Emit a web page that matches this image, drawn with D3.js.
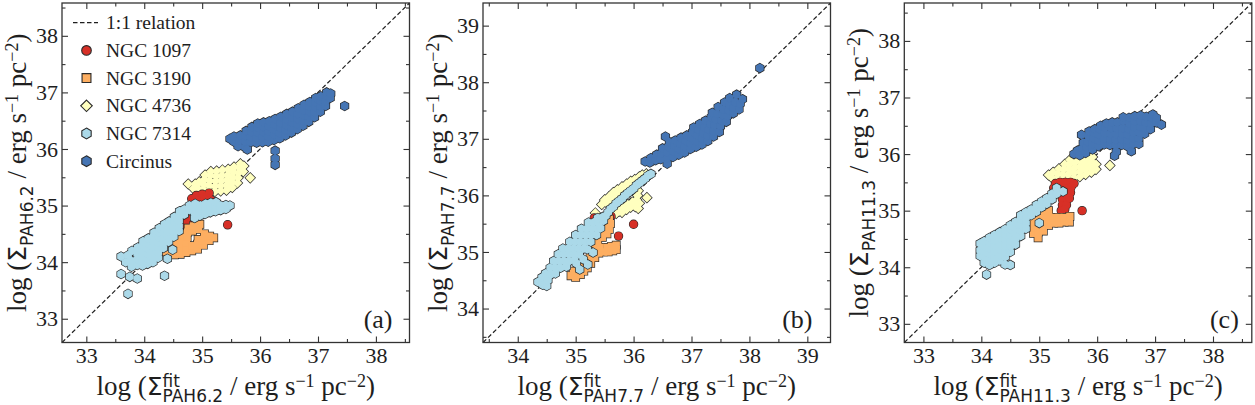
<!DOCTYPE html>
<html>
<head>
<meta charset="utf-8">
<script src="https://cdn.jsdelivr.net/npm/d3@7"></script>
<style>
  body { margin: 0; background: #fff; }
  svg { display: block; font-family: 'Liberation Serif', 'Times New Roman', serif; }
</style>
</head>
<body>
<svg id="chart" width="1255" height="405"></svg>
<script>
// ---- data ---------------------------------------------------------------
const galaxies = ['NGC 1097', 'NGC 3190', 'NGC 4736', 'NGC 7314', 'Circinus'];
const features = ['PAH6.2', 'PAH7.7', 'PAH11.3'];
const panelNames = ['(a)', '(b)', '(c)'];
const ticksA = [33, 34, 35, 36, 37, 38];
const ticksB = [34, 35, 36, 37, 38, 39];
const ticksC = [33, 34, 35, 36, 37, 38];

// panel (a): [log fit, log measured]
const ngc1097A = [[34.82,35.12],[34.85,35.04],[34.9,35.18],[34.95,35.1],[35.0,35.2],[35.03,35.08],
  [35.08,35.15],[35.12,35.22],[35.15,35.1],[35.1,35.0],[35.0,34.98],[34.7,34.66],[34.72,34.75],
  [34.76,34.84],[34.8,34.72],[34.82,34.64],[34.87,34.75],[34.92,34.6],[35.44,34.66]];
const ngc3190A = [[34.28,34.2],[34.35,34.18],[34.35,34.28],[34.43,34.15],[34.44,34.25],[34.45,34.35],
  [34.52,34.13],[34.53,34.22],[34.54,34.32],[34.55,34.42],[34.62,34.14],[34.62,34.23],[34.63,34.32],
  [34.64,34.41],[34.65,34.5],[34.72,34.17],[34.72,34.26],[34.73,34.35],[34.74,34.44],[34.75,34.53],
  [34.76,34.6],[34.82,34.2],[34.82,34.29],[34.83,34.55],[34.85,34.64],[34.92,34.23],[34.92,34.32],
  [34.93,34.4],[34.94,34.58],[34.96,34.67],[35.02,34.3],[35.03,34.38],[35.04,34.5],[35.12,34.38],
  [35.13,34.46],[35.2,34.43]];
const ngc4736A = [[34.85,35.3],[34.88,35.38],[34.93,35.3],[34.95,35.42],[35.02,35.28],[35.03,35.37],
  [35.04,35.46],[35.05,35.54],[35.12,35.26],[35.12,35.35],[35.13,35.44],[35.14,35.53],[35.15,35.6],
  [35.22,35.25],[35.22,35.34],[35.23,35.43],[35.24,35.52],[35.25,35.61],[35.32,35.26],[35.32,35.35],
  [35.33,35.44],[35.34,35.53],[35.35,35.63],[35.42,35.27],[35.42,35.36],[35.43,35.45],[35.44,35.54],
  [35.45,35.64],[35.52,35.32],[35.52,35.41],[35.53,35.5],[35.54,35.59],[35.55,35.68],[35.61,35.4],
  [35.62,35.49],[35.63,35.58],[35.64,35.67],[35.66,35.74],[35.71,35.6],[35.72,35.7],
  [34.76,35.38],[35.83,35.49]];
const ngc7314A = [[33.6,33.79],[33.75,33.74],[33.72,33.44],[33.88,33.71],[34.35,33.76],[34.4,34.06],
  [34.49,34.22],[33.6,34.1],[33.68,34.0],[33.72,34.12],[33.78,33.92],[33.78,34.02],[33.79,34.2],
  [33.88,33.95],[33.88,34.05],[33.88,34.15],[33.89,34.26],
  [33.97,33.94],[33.97,34.03],[33.97,34.12],[33.97,34.21],[33.98,34.3],[33.98,34.37],
  [34.06,33.97],[34.06,34.06],[34.06,34.15],[34.06,34.24],[34.07,34.33],[34.07,34.42],
  [34.15,34.0],[34.15,34.09],[34.15,34.18],[34.15,34.27],[34.16,34.36],[34.16,34.45],[34.17,34.52],
  [34.24,34.08],[34.24,34.17],[34.24,34.26],[34.24,34.35],[34.25,34.44],[34.25,34.53],[34.26,34.6],
  [34.33,34.25],[34.33,34.34],[34.33,34.43],[34.34,34.52],[34.34,34.61],[34.35,34.67],
  [34.42,34.36],[34.42,34.45],[34.42,34.54],[34.43,34.63],[34.43,34.72],
  [34.51,34.45],[34.51,34.54],[34.51,34.63],[34.52,34.72],[34.52,34.8],
  [34.6,34.55],[34.6,34.64],[34.6,34.73],[34.61,34.82],[34.61,34.9],
  [34.69,34.84],[34.69,34.93],[34.78,34.92],[34.78,35.0],
  [34.87,34.78],[34.87,34.87],[34.87,34.96],[34.88,35.03],
  [34.96,34.82],[34.96,34.91],[34.97,35.0],[35.05,34.85],[35.05,34.94],[35.06,35.03],
  [35.14,34.88],[35.14,34.97],[35.15,35.05],[35.23,34.9],[35.23,34.99],[35.24,35.06],
  [35.32,34.92],[35.32,35.0],[35.41,34.94],[35.41,35.01],[35.48,35.0]];
const circinusA = [[35.48,36.18],[35.55,36.13],[35.55,36.22],[35.62,36.05],[35.64,36.15],[35.66,36.24],
  [35.74,36.03],[35.74,36.13],[35.75,36.23],[35.76,36.32],[35.84,36.12],[35.84,36.21],[35.85,36.3],
  [35.86,36.39],[35.94,36.11],[35.94,36.2],[35.95,36.29],[35.95,36.38],[35.96,36.45],[36.04,36.12],
  [36.04,36.21],[36.05,36.3],[36.05,36.39],[36.06,36.47],[36.14,36.13],[36.14,36.22],[36.15,36.31],
  [36.15,36.4],[36.16,36.49],[36.24,36.16],[36.24,36.25],[36.25,36.34],[36.25,36.43],[36.26,36.53],
  [36.34,36.19],[36.34,36.28],[36.35,36.37],[36.35,36.46],[36.36,36.57],[36.44,36.24],[36.44,36.33],
  [36.45,36.42],[36.45,36.52],[36.46,36.62],[36.54,36.29],[36.54,36.38],[36.55,36.47],[36.55,36.56],
  [36.56,36.66],[36.64,36.35],[36.64,36.44],[36.65,36.53],[36.65,36.62],[36.66,36.72],[36.74,36.41],
  [36.74,36.5],[36.75,36.59],[36.75,36.68],[36.76,36.78],[36.84,36.48],[36.84,36.57],[36.85,36.66],
  [36.85,36.75],[36.86,36.83],[36.94,36.56],[36.94,36.65],[36.95,36.74],[36.95,36.83],[36.96,36.9],
  [37.04,36.66],[37.04,36.75],[37.05,36.84],[37.05,36.93],[37.13,36.76],[37.13,36.85],[37.14,36.94],
  [37.15,37.0],[37.21,36.9],[37.22,36.98],[37.46,36.76],[36.26,35.97],[36.26,35.83],[36.26,35.72],
  [35.78,35.99]];

// panel (b)
const ngc1097B = [[35.32,35.6],[35.55,35.6],[35.61,35.63],[35.74,35.28],[36.0,35.49]];
const ngc3190B = [[34.92,34.58],[35.0,34.55],[34.96,34.66],[35.08,34.6],[35.05,34.72],[35.14,34.66],
  [35.12,34.76],[35.2,34.72],[35.18,34.84],[35.26,34.8],[35.25,34.92],[35.33,34.9],[35.32,35.0],
  [35.4,34.98],[35.48,35.0],[35.56,35.0],[35.64,35.02],[35.7,35.04],[35.7,35.12],[35.62,35.1],
  [35.54,35.08],[35.42,35.08],[35.36,35.1],[35.38,35.2],[35.4,35.28],[35.46,35.26],[35.48,35.36],
  [35.54,35.32],[35.52,35.44],[35.58,35.4],[35.56,35.52],[35.6,35.5],[35.58,35.58],[35.3,35.15],
  [35.34,35.28]];
const ngc4736B = [[35.45,35.84],[35.5,35.92],[35.55,35.85],[35.58,35.98],[35.62,35.92],[35.65,36.05],
  [35.68,36.0],[35.72,36.1],[35.76,36.05],[35.8,36.15],[35.85,36.12],[35.88,36.2],[35.93,36.18],
  [35.95,36.25],[36.0,36.23],[36.02,36.28],[36.08,36.3],[36.1,36.33],[36.15,36.36],[36.22,36.38],
  [35.62,35.65],[35.7,35.68],[35.75,35.72],[35.8,35.7],[35.82,35.78],[35.88,35.75],[35.9,35.84],
  [35.95,35.79],[35.98,35.88],[36.03,35.8],[36.05,35.92],[36.07,36.0],[36.08,36.08],[36.08,35.77],
  [36.1,35.86],[35.34,35.69],[36.23,35.96]];
const ngc7314B = [[34.35,34.47],[34.43,34.42],[34.5,34.4],[34.42,34.55],[34.52,34.5],
  [34.48,34.62],[34.57,34.6],[34.65,34.62],
  [34.56,34.72],[34.65,34.72],[34.74,34.72],[34.84,34.74],
  [34.62,34.84],[34.71,34.84],[34.8,34.84],[34.89,34.84],[34.98,34.86],
  [34.7,34.96],[34.79,34.96],[34.88,34.96],[34.97,34.96],[35.06,34.96],
  [34.78,35.06],[34.87,35.06],[34.96,35.06],[35.05,35.06],[35.14,35.06],[35.2,35.05],
  [34.9,35.18],[34.99,35.18],[35.08,35.18],[35.17,35.18],[35.26,35.18],
  [35.0,35.3],[35.09,35.3],[35.18,35.3],[35.27,35.3],[35.36,35.3],
  [35.1,35.41],[35.19,35.41],[35.28,35.41],[35.37,35.41],[35.43,35.42],
  [35.22,35.52],[35.31,35.52],[35.4,35.52],[35.48,35.55],
  [35.38,35.6],[35.47,35.62],
  [35.52,35.64],[35.56,35.7],[35.6,35.76],[35.65,35.8],[35.7,35.86],[35.75,35.9],
  [35.8,35.94],[35.85,36.0],[35.9,36.04],[35.95,36.08],[36.0,36.12],[36.05,36.18],
  [36.1,36.22],[36.15,36.26],[36.2,36.3],[36.25,36.35],[36.3,36.38],
  [35.07,34.69],[35.13,34.87],[35.21,34.78],[35.3,34.99],[35.01,34.8]];
const circinusB = [[36.2,36.6],[36.28,36.58],[36.3,36.66],[36.38,36.62],[36.4,36.72],[36.47,36.64],
  [36.48,36.74],[36.5,36.83],[36.55,37.04],[36.58,36.56],[36.58,36.66],[36.58,36.76],[36.6,36.86],
  [36.62,36.94],[36.68,36.68],[36.68,36.78],[36.7,36.88],[36.72,36.97],[36.78,36.72],[36.78,36.82],
  [36.8,36.92],[36.82,37.02],[36.88,36.76],[36.88,36.86],[36.9,36.96],[36.92,37.06],[36.98,36.82],
  [36.98,36.92],[37.0,37.02],[37.02,37.12],[37.04,37.2],[37.08,36.86],[37.08,36.96],[37.1,37.06],
  [37.12,37.16],[37.14,37.26],[37.18,36.9],[37.18,37.0],[37.2,37.1],[37.22,37.2],[37.24,37.32],
  [37.28,36.96],[37.28,37.06],[37.3,37.16],[37.32,37.26],[37.34,37.38],[37.36,37.46],[37.38,37.04],
  [37.38,37.14],[37.4,37.24],[37.42,37.34],[37.44,37.44],[37.46,37.56],[37.48,37.12],[37.5,37.22],
  [37.52,37.32],[37.54,37.42],[37.55,37.52],[37.57,37.64],[37.6,37.3],[37.62,37.4],[37.64,37.5],
  [37.65,37.6],[37.66,37.72],[37.72,37.45],[37.73,37.55],[37.75,37.65],[37.78,37.78],[37.82,37.52],
  [37.84,37.62],[37.88,37.7],[38.18,38.25]];

// panel (c)
const ngc1097C = [[35.25,35.4],[35.28,35.48],[35.3,35.3],[35.36,35.5],[35.36,35.4],[35.38,35.3],
  [35.4,35.2],[35.4,35.1],[35.38,35.0],[35.45,35.5],[35.46,35.4],[35.47,35.3],[35.48,35.2],
  [35.47,35.1],[35.44,35.02],[35.54,35.5],[35.55,35.42],[35.54,35.32],[35.52,35.22],[35.6,35.48],
  [35.74,35.0]];
const ngc3190C = [[34.82,34.72],[34.82,34.8],[34.9,34.6],[34.9,34.7],[34.9,34.8],[34.9,34.88],
  [34.98,34.52],[34.98,34.62],[34.98,34.72],[34.98,34.82],[34.98,34.92],[35.07,34.64],[35.07,34.74],
  [35.07,34.84],[35.07,34.94],[35.16,34.74],[35.16,34.84],[35.16,34.94],[35.16,35.0],[35.25,34.78],
  [35.25,34.88],[35.34,34.78],[35.34,34.88],[35.43,34.8],[35.43,34.88],[35.52,34.8],[35.53,34.9]];
const ngc4736C = [[35.16,35.63],[35.22,35.58],[35.24,35.68],[35.3,35.56],[35.32,35.65],[35.34,35.74],
  [35.4,35.55],[35.41,35.64],[35.42,35.73],[35.44,35.82],[35.5,35.55],[35.5,35.64],[35.51,35.73],
  [35.52,35.82],[35.53,35.9],[35.6,35.58],[35.6,35.67],[35.61,35.76],[35.62,35.85],[35.63,35.93],
  [35.7,35.6],[35.7,35.69],[35.71,35.78],[35.72,35.87],[35.73,35.95],[35.8,35.64],[35.8,35.73],
  [35.81,35.82],[35.82,35.91],[35.83,35.98],[35.9,35.68],[35.9,35.77],[35.91,35.86],[35.92,35.95],
  [35.98,35.73],[35.98,35.82],[36.22,35.8]];
const ngc7314C = [[33.98,34.2],[33.98,34.3],[33.98,34.42],[34.05,34.08],[34.05,34.18],[34.05,34.28],
  [34.05,34.38],[34.05,34.46],[34.09,33.87],[34.14,34.04],[34.14,34.14],[34.14,34.24],[34.14,34.34],
  [34.14,34.44],[34.14,34.52],[34.23,34.08],[34.23,34.18],[34.23,34.28],[34.23,34.38],[34.23,34.48],
  [34.23,34.57],[34.32,34.12],[34.32,34.22],[34.32,34.32],[34.32,34.42],[34.32,34.52],[34.32,34.62],
  [34.41,34.05],[34.41,34.18],[34.41,34.28],[34.41,34.38],[34.41,34.48],[34.41,34.58],[34.41,34.67],
  [34.5,34.04],[34.5,34.27],[34.5,34.37],[34.5,34.47],[34.5,34.57],[34.5,34.67],[34.5,34.74],
  [34.59,34.4],[34.59,34.5],[34.59,34.6],[34.59,34.7],[34.59,34.8],[34.68,34.55],[34.68,34.65],
  [34.68,34.75],[34.68,34.85],[34.68,34.92],[34.77,34.68],[34.77,34.78],[34.77,34.88],[34.77,34.97],
  [34.86,34.92],[34.86,35.02],[34.95,34.98],[34.95,35.1],[35.04,35.06],[35.04,35.16],
  [35.13,35.12],[35.13,35.22],[35.22,35.2],[35.22,35.3],[35.3,35.3],[35.3,35.4],[35.41,35.34],
  [35.0,34.78]];
const circinusC = [[35.6,36.0],[35.66,36.06],[35.7,35.98],[35.73,36.34],[35.74,36.1],[35.76,36.2],
  [35.8,36.02],[35.82,36.12],[35.83,36.22],[35.85,36.32],[35.86,36.4],[35.92,36.08],[35.92,36.18],
  [35.93,36.28],[35.94,36.38],[35.96,36.44],[36.02,36.14],[36.02,36.24],[36.03,36.34],[36.04,36.44],
  [36.06,36.5],[36.12,36.17],[36.12,36.27],[36.13,36.37],[36.14,36.47],[36.16,36.54],[36.22,36.16],
  [36.22,36.26],[36.23,36.36],[36.24,36.46],[36.26,36.56],[36.32,36.15],[36.32,36.25],[36.33,36.35],
  [36.34,36.45],[36.35,36.56],[36.33,36.04],[36.3,35.97],[36.42,36.16],[36.42,36.26],[36.43,36.36],
  [36.44,36.46],[36.45,36.58],[36.45,36.65],[36.52,36.14],[36.52,36.24],[36.53,36.34],[36.54,36.44],
  [36.55,36.54],[36.55,36.64],[36.59,36.05],[36.62,36.18],[36.62,36.28],[36.63,36.38],[36.64,36.48],
  [36.65,36.58],[36.65,36.67],[36.72,36.18],[36.72,36.28],[36.73,36.38],[36.74,36.48],[36.75,36.58],
  [36.75,36.68],[36.82,36.36],[36.83,36.46],[36.84,36.56],[36.85,36.66],[36.92,36.44],[36.93,36.54],
  [36.94,36.64],[36.96,36.7],[37.02,36.56],[37.02,36.64],[37.11,36.52]];

// ---- styling ------------------------------------------------------------
const serif = "'Liberation Serif', 'Times New Roman', serif";
const sans = "'DejaVu Sans', sans-serif";
const ink = '#1e1e1e';
const edge = '#2a2a2a';

const galaxyStyle = {
  'NGC 1097': { color: '#d73027', shape: 'circle' },
  'NGC 3190': { color: '#fdae61', shape: 'square' },
  'NGC 4736': { color: '#ffffbf', shape: 'diamond' },
  'NGC 7314': { color: '#abd9e9', shape: 'hexagon' },
  'Circinus': { color: '#4575b4', shape: 'hexagon' }
};
// drawing order (later on top)
const drawOrder = ['NGC 4736', 'NGC 1097', 'NGC 3190', 'NGC 7314', 'Circinus'];

const panels = [
  { name: panelNames[0], feature: features[0], left: 62, domain: [32.58, 38.58], ticks: ticksA, labelDx: 17,
    sets: { 'NGC 1097': ngc1097A, 'NGC 3190': ngc3190A, 'NGC 4736': ngc4736A, 'NGC 7314': ngc7314A, 'Circinus': circinusA } },
  { name: panelNames[1], feature: features[1], left: 483, domain: [33.4, 39.4], ticks: ticksB, labelDx: 18,
    sets: { 'NGC 1097': ngc1097B, 'NGC 3190': ngc3190B, 'NGC 4736': ngc4736B, 'NGC 7314': ngc7314B, 'Circinus': circinusB } },
  { name: panelNames[2], feature: features[2], left: 904.3, domain: [32.67, 38.67], ticks: ticksC, labelDx: 13,
    sets: { 'NGC 1097': ngc1097C, 'NGC 3190': ngc3190C, 'NGC 4736': ngc4736C, 'NGC 7314': ngc7314C, 'Circinus': circinusC } }
];

const pw = 347.5;
const ph = 339.5;
const panelTop = 3;

const svg = d3.select('#chart');

function markerPath(shape, k) {
  if (shape === 'circle') {
    const r = 4.0 * k;
    return `M${r},0A${r},${r} 0 1,1 ${-r},0A${r},${r} 0 1,1 ${r},0Z`;
  }
  if (shape === 'square') {
    const s = 3.7 * k;
    return `M${-s},${-s}H${s}V${s}H${-s}Z`;
  }
  if (shape === 'diamond') {
    const d = 4.8 * k;
    return `M0,${-d}L${d},0L0,${d}L${-d},0Z`;
  }
  // hexagon, point up
  const r = 4.5 * k;
  return d3.range(6).map(function(i) {
    const a = (-90 + 60 * i) * Math.PI / 180;
    return (i ? 'L' : 'M') + (r * Math.cos(a)).toFixed(2) + ',' + (r * Math.sin(a)).toFixed(2);
  }).join('') + 'Z';
}

function drawGalaxy(g, pts, st, x, y) {
  const d = markerPath(st.shape, 1);
  const pos = function(p) { return 'translate(' + x(p[0]) + ',' + y(p[1]) + ')'; };
  // outline pass, then a clean fill pass so overlapping points merge into one patch
  g.append('g').selectAll('path').data(pts).join('path')
    .attr('d', d)
    .attr('transform', pos)
    .attr('fill', st.color)
    .attr('stroke', edge)
    .attr('stroke-width', 1.4);
  g.append('g').selectAll('path').data(pts).join('path')
    .attr('d', d)
    .attr('transform', pos)
    .attr('fill', st.color);
}

function axisLabel(g, tx, ty, rotate, feature, fit) {
  const t = g.append('text')
    .attr('transform', 'translate(' + tx + ',' + ty + ')' + (rotate ? ' rotate(-90)' : ''))
    .attr('text-anchor', 'middle')
    .style('font-family', serif)
    .style('font-size', '27px')
    .style('white-space', 'pre')
    .attr('fill', ink);
  t.append('tspan').text('log (');
  t.append('tspan').style('font-family', sans).style('font-size', '25px').text('Σ');
  if (fit) {
    const f = t.append('tspan').style('font-family', sans).style('font-size', '17px').attr('dy', -8).text('fit');
    const w = f.node().getComputedTextLength();
    t.append('tspan').style('font-family', sans).style('font-size', '17px')
      .attr('dx', -w).attr('dy', 15).text(feature);
    t.append('tspan').attr('dy', -7).text(' / erg s');
  } else {
    t.append('tspan').style('font-family', sans).style('font-size', '17px').attr('dy', 7).text(feature);
    t.append('tspan').attr('dy', -7).text(' / erg s');
  }
  t.append('tspan').style('font-size', '18px').attr('dy', -8).text('−1');
  t.append('tspan').attr('dy', 8).text(' pc');
  t.append('tspan').style('font-size', '18px').attr('dy', -8).text('−2');
  t.append('tspan').attr('dy', 8).text(')');
}

function styleAxis(g) {
  g.attr('font-family', null).attr('font-size', null);
  g.select('.domain').remove();
  g.selectAll('line').attr('stroke', '#333').attr('stroke-width', 1.1);
  g.selectAll('text')
    .style('font-family', serif)
    .style('font-size', '22px')
    .attr('fill', ink);
}

function drawPanel(p, idx) {
  const x = d3.scaleLinear().domain(p.domain).range([0, pw]);
  const y = d3.scaleLinear().domain(p.domain).range([ph, 0]);
  const minor = d3.range(Math.ceil(p.domain[0] * 2) / 2, p.domain[1], 0.5)
    .filter(function(v) { return v % 1 !== 0; });

  const g = svg.append('g').attr('transform', 'translate(' + p.left + ',' + panelTop + ')');

  // 1:1 relation
  g.append('line')
    .attr('x1', x(p.domain[0])).attr('y1', y(p.domain[0]))
    .attr('x2', x(p.domain[1])).attr('y2', y(p.domain[1]))
    .attr('stroke', ink)
    .attr('stroke-width', 1.2)
    .attr('stroke-dasharray', '4.5,2.5');

  drawOrder.forEach(function(name) {
    drawGalaxy(g, p.sets[name], galaxyStyle[name], x, y);
  });

  // inward ticks on every side
  g.append('g').attr('transform', 'translate(0,' + ph + ')')
    .call(d3.axisBottom(x).tickValues(p.ticks).tickSizeInner(-6).tickSizeOuter(0).tickPadding(5).tickFormat(d3.format('d')))
    .call(styleAxis);
  g.append('g').attr('transform', 'translate(0,' + ph + ')')
    .call(d3.axisBottom(x).tickValues(minor).tickSizeInner(-3.5).tickSizeOuter(0).tickFormat(''))
    .call(styleAxis);
  g.append('g')
    .call(d3.axisTop(x).tickValues(p.ticks).tickSizeInner(-6).tickSizeOuter(0).tickFormat(''))
    .call(styleAxis);
  g.append('g')
    .call(d3.axisTop(x).tickValues(minor).tickSizeInner(-3.5).tickSizeOuter(0).tickFormat(''))
    .call(styleAxis);
  g.append('g')
    .call(d3.axisLeft(y).tickValues(p.ticks).tickSizeInner(-6).tickSizeOuter(0).tickPadding(4).tickFormat(d3.format('d')))
    .call(styleAxis);
  g.append('g')
    .call(d3.axisLeft(y).tickValues(minor).tickSizeInner(-3.5).tickSizeOuter(0).tickFormat(''))
    .call(styleAxis);
  g.append('g').attr('transform', 'translate(' + pw + ',0)')
    .call(d3.axisRight(y).tickValues(p.ticks).tickSizeInner(-6).tickSizeOuter(0).tickFormat(''))
    .call(styleAxis);
  g.append('g').attr('transform', 'translate(' + pw + ',0)')
    .call(d3.axisRight(y).tickValues(minor).tickSizeInner(-3.5).tickSizeOuter(0).tickFormat(''))
    .call(styleAxis);

  g.append('rect')
    .attr('width', pw).attr('height', ph)
    .attr('fill', 'none')
    .attr('stroke', '#333')
    .attr('stroke-width', 1.3);

  g.append('text')
    .attr('x', pw - p.labelDx).attr('y', 325)
    .attr('text-anchor', 'end')
    .style('font-family', serif)
    .style('font-size', '26px')
    .attr('fill', ink)
    .text(p.name);

  axisLabel(g, pw / 2, 392, false, p.feature, true);
  axisLabel(g, -36, ph / 2, true, p.feature, false);

  if (idx === 0) drawLegend(g);
}

function drawLegend(g) {
  const rowY = function(i) { return 19.7 + i * 27.7; };
  const lg = g.append('g').attr('class', 'legend');
  lg.append('line')
    .attr('x1', 11).attr('x2', 36)
    .attr('y1', rowY(0)).attr('y2', rowY(0))
    .attr('stroke', ink).attr('stroke-width', 1.2).attr('stroke-dasharray', '4.5,2.5');
  lg.append('text')
    .attr('x', 44).attr('y', rowY(0)).attr('dy', '0.34em')
    .style('font-family', serif).style('font-size', '19.5px').attr('fill', ink)
    .text('1:1 relation');

  const rows = lg.selectAll('g.row').data(galaxies).join('g')
    .attr('class', 'row')
    .attr('transform', function(d, i) { return 'translate(0,' + rowY(i + 1) + ')'; });
  rows.append('path')
    .attr('transform', 'translate(24.5,0)')
    .attr('d', function(d) { return markerPath(galaxyStyle[d].shape, 1.2); })
    .attr('fill', function(d) { return galaxyStyle[d].color; })
    .attr('stroke', edge)
    .attr('stroke-width', 1.1);
  rows.append('text')
    .attr('x', 44).attr('dy', '0.34em')
    .style('font-family', serif).style('font-size', '19.5px').attr('fill', ink)
    .text(function(d) { return d; });
}

panels.forEach(drawPanel);
</script>
</body>
</html>
